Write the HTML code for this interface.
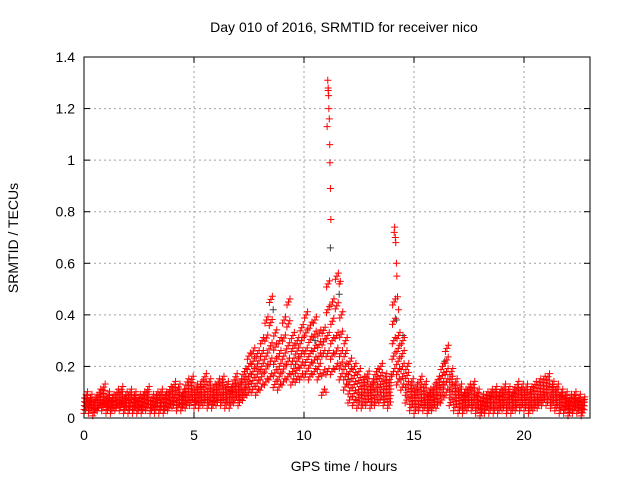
<!DOCTYPE html>
<html><head><meta charset="utf-8"><style>
body{margin:0;background:#fff;}
svg text{font-family:"Liberation Sans",sans-serif;font-size:14px;fill:#000;}
</style></head><body>
<svg id="chart" width="640" height="480" xmlns="http://www.w3.org/2000/svg">
<rect width="640" height="480" fill="#fff"/>
<text x="344" y="32" text-anchor="middle">Day 010 of 2016, SRMTID for receiver nico</text>
<text x="344" y="471" text-anchor="middle">GPS time / hours</text>
<text transform="translate(18,238) rotate(-90)" text-anchor="middle">SRMTID / TECUs</text>
<g id="grid"></g>
<g id="axes"></g>
<g id="points"></g>
<rect x="84" y="57" width="506" height="361" fill="none" stroke="#000" stroke-width="1"/>
</svg>
<script>
const xTicks=[0,5,10,15,20];
const yTicks=[0,0.2,0.4,0.6,0.8,1,1.2,1.4];
const yTickLabels=["0","0.2","0.4","0.6","0.8","1","1.2","1.4"];
const step=0.2;
const srmtidHi=[.09,.08,.07,.10,.12,.09,.08,.10,.11,.09,
.10,.09,.08,.09,.11,.08,.09,.10,.09,.11,
.13,.12,.10,.14,.15,.12,.13,.16,.14,.12,
.14,.15,.13,.12,.16,.14,.18,.24,.26,.25,
.30,.38,.46,.33,.30,.38,.45,.32,.30,.35,
.40,.36,.38,.33,.34,.52,.45,.55,.40,.30,
.22,.20,.18,.15,.17,.14,.18,.20,.16,.15,
.45,.32,.30,.20,.14,.12,.15,.13,.10,.12,
.15,.20,.27,.18,.14,.12,.10,.12,.13,.10,
.08,.09,.10,.11,.10,.12,.11,.10,.13,.12,
.12,.11,.13,.14,.15,.16,.13,.12,.10,.09,
.08,.09,.08,.07];
const srmtidMid=[.06,.05,.05,.06,.07,.06,.05,.06,.07,.06,
.06,.06,.05,.06,.07,.05,.06,.06,.06,.07,
.08,.08,.07,.09,.10,.08,.09,.10,.09,.08,
.10,.10,.09,.09,.11,.10,.12,.16,.18,.17,
.20,.24,.28,.22,.20,.24,.28,.22,.22,.25,
.26,.25,.27,.24,.25,.32,.30,.32,.25,.20,
.14,.13,.11,.10,.11,.10,.12,.13,.11,.10,
.30,.22,.20,.13,.09,.08,.09,.08,.07,.08,
.10,.13,.18,.12,.09,.08,.07,.08,.08,.07,
.05,.06,.07,.07,.07,.08,.07,.07,.08,.08,
.08,.07,.08,.09,.10,.11,.09,.08,.07,.06,
.05,.06,.05,.05];
const srmtidLo=[.03,.03,.02,.04,.04,.03,.03,.04,.04,.03,
.03,.03,.03,.03,.04,.03,.03,.03,.03,.04,
.05,.04,.04,.05,.06,.05,.05,.06,.05,.05,
.06,.06,.05,.05,.07,.06,.08,.10,.11,.10,
.12,.14,.16,.13,.12,.14,.16,.14,.15,.16,
.17,.16,.18,.16,.10,.18,.18,.20,.16,.12,
.07,.06,.05,.05,.06,.05,.06,.07,.06,.05,
.18,.14,.12,.07,.04,.03,.04,.04,.03,.04,
.05,.07,.10,.06,.04,.03,.03,.04,.04,.03,
.02,.03,.03,.03,.03,.04,.03,.03,.04,.04,
.04,.03,.04,.05,.06,.06,.05,.04,.03,.03,
.02,.03,.03,.02];
const spikeT=[11.05,11.08,11.1,11.12,11.13,11.15,11.17,11.18,11.2,11.22,14.1,14.12,14.15,14.17,14.2,14.22,14.25,14.3,11.6,11.65,11.1,11.0];
const spikeV=[1.13,1.31,1.28,1.25,1.2,1.16,1.06,0.99,0.89,0.77,0.72,0.74,0.70,0.68,0.60,0.55,0.47,0.42,0.52,0.53,1.27,0.10];
const grayT=[11.2,11.6,14.2,14.5,10.5,8.6,16.4,12.0];
const grayV=[0.66,0.48,0.38,0.32,0.30,0.42,0.22,0.15];

const X0=84,X1=590,Y0=418,Y1=57,XMAX=23,YMAX=1.4;
const xs=v=>X0+v/XMAX*(X1-X0);
const ys=v=>Y0-v/YMAX*(Y0-Y1);
const NS="http://www.w3.org/2000/svg";
function mk(tag,attrs,parent){const e=document.createElementNS(NS,tag);for(const k in attrs)e.setAttribute(k,attrs[k]);parent.appendChild(e);return e;}
const grid=document.getElementById('grid'),axes=document.getElementById('axes'),pts=document.getElementById('points');
xTicks.forEach(t=>{const x=xs(t);
 if(t>0){const g=mk('line',{x1:x,x2:x,y1:Y0,y2:Y1,stroke:'#a0a0a0','stroke-dasharray':'2,3'},grid);
 
 }
 mk('line',{x1:x,x2:x,y1:Y0,y2:Y0-6,stroke:'#000'},axes);
 mk('line',{x1:x,x2:x,y1:Y1,y2:Y1+6,stroke:'#000'},axes);
 const l=mk('text',{x:x,y:Y0+22,'text-anchor':'middle'},axes);l.textContent=t;
 
 
});
yTicks.forEach((t,i)=>{const y=ys(t);
 if(i>0&&i<yTicks.length-1){const g=mk('line',{x1:X0,x2:X1,y1:y,y2:y,stroke:'#a0a0a0','stroke-dasharray':'2,3'},grid);
 
 }
 mk('line',{x1:X0,x2:X0+6,y1:y,y2:y,stroke:'#000'},axes);
 mk('line',{x1:X1,x2:X1-6,y1:y,y2:y,stroke:'#000'},axes);
 const l=mk('text',{x:X0-9,y:y+5,'text-anchor':'end'},axes);l.textContent=yTickLabels[i];
 
 
});
function plus(t,v,col){const x=xs(t),y=ys(v);
 const p=mk('path',{d:`M${x-3.5},${y}h7M${x},${y-3.5}v7`,stroke:col,'stroke-width':1,fill:'none'},pts);
 
 
}
grayT.forEach((t,i)=>plus(t,grayV[i],'#404040'));
// fill the band between low, mid and high envelopes at each time sample
const N=srmtidHi.length;
for(let i=0;i<N;i++){
 const lo=srmtidLo[i],mi=srmtidMid[i],hi=srmtidHi[i];
 const levels=[lo,(lo+mi)/2,mi,(mi+hi)/2,hi];
 levels.forEach((v,k)=>{
  for(let s=0;s<3;s++){
   const t=i*step+((k*0.37+s*0.33)%1)*step;
   plus(t,v+((s+k)%3-1)*0.012,'#ff0000');
  }
 });
}
spikeT.forEach((t,i)=>plus(t,spikeV[i],'#ff0000'));
</script>
</body></html>
